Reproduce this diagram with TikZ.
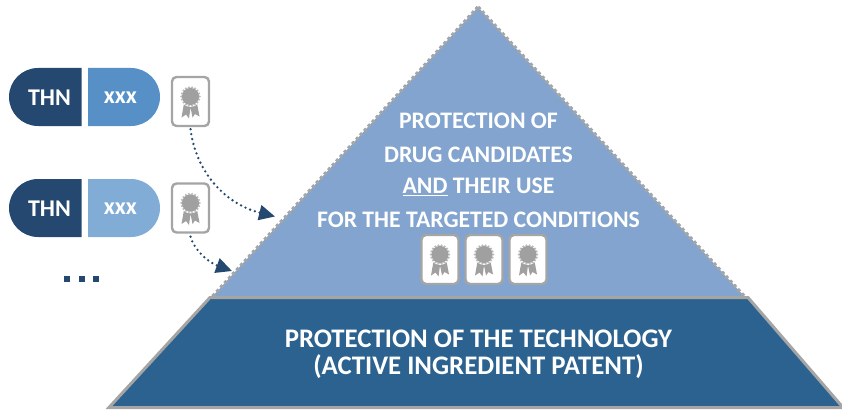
\documentclass[tikz,border=0pt]{standalone}
\usepackage{fontspec}
\setmainfont{Carlito}
\usetikzlibrary{arrows.meta}
\definecolor{navy}{HTML}{24486F}
\definecolor{midblue}{HTML}{5790C6}
\definecolor{lightblue}{HTML}{81ACD6}
\definecolor{pyr}{HTML}{82A4CE}
\definecolor{base}{HTML}{2C628F}
\definecolor{edge}{HTML}{A5A5A5}
\definecolor{seal}{HTML}{A0A0A0}
\tikzset{
  x=1pt,y=-1pt,
  pilltext/.style={text=white,font=\fontsize{24}{24}\selectfont\bfseries,inner sep=0pt,anchor=center},
  pilltextb/.style={text=white,font=\fontsize{24}{24}\selectfont\bfseries,inner sep=0pt,anchor=center},
  badgebox/.style={draw=edge,line width=2.4pt,fill=white,rounded corners=4.5pt,minimum width=37pt,minimum height=49pt,inner sep=0pt},
  headtext/.style={text=white,font=\fontsize{23.7}{23.7}\selectfont\bfseries,inner sep=0pt,anchor=center},
  basetext/.style={text=white,font=\fontsize{26.8}{26.8}\selectfont\bfseries,inner sep=0pt,anchor=center},
  linkarrow/.style={draw=navy,line width=2.6pt,line cap=round,dash pattern=on 0pt off 5pt,-{Triangle[length=16pt,width=15pt]}},
  sealpic/.pic={
    \fill[seal] (-6,4) -- (-9,21) -- (-4.5,18) -- (-1.5,22) -- (0,11) -- (2,21) -- (4.5,17.5) -- (9,20) -- (6,4) -- cycle;
    \fill[white] (0,0) circle (10.4);
    \foreach \a in {0,20,...,340}{\fill[seal!70!white] (\a:9.2) circle (1.2);}
    \fill[seal] (0,0) circle (8.6);
  }
}
\begin{document}
\begin{tikzpicture}
\useasboundingbox (0,0) rectangle (842,409);
% pyramid
\coordinate (apex) at (478,7);
\coordinate (pl) at (212,297);
\coordinate (pr) at (745,297);
\fill[pyr] (pl) -- (apex) -- (pr) -- cycle;
\draw[edge,line width=3.4pt,dash pattern=on 3.2pt off 2.7pt] (apex) -- (pl);
\draw[edge,line width=3.4pt,dash pattern=on 3.2pt off 2.7pt] (apex) -- (pr);
% base
\coordinate (bl) at (109,407.5);
\coordinate (tl) at (210,297.5);
\coordinate (tr) at (748,297.5);
\coordinate (br) at (843,407.5);
\fill[base] (bl) -- (tl) -- (tr) -- (br) -- cycle;
\draw[edge,line width=3pt,line join=miter] (bl) -- (tl) -- (tr) -- (br) -- cycle;
% text
\node[headtext] (t1) at (478.5,121) {PROTECTION OF};
\node[headtext] (t2) at (478.5,155) {DRUG CANDIDATES};
\node[headtext] (t3) at (478.5,187) {\underline{AND} THEIR USE};
\node[headtext] (t4) at (478.5,220) {FOR THE TARGETED CONDITIONS};
\node[basetext] (t5) at (478.5,339) {PROTECTION OF THE TECHNOLOGY};
\node[basetext] (t6) at (478.5,367) {(ACTIVE INGREDIENT PATENT)};
% pills
\fill[navy] (81.5,68) -- (38,68) .. controls (22,68) and (9,81) .. (9,97) .. controls (9,113) and (22,126) .. (38,126) -- (81.5,126) -- cycle;
\fill[midblue] (88,68) -- (131,68) .. controls (147,68) and (160,81) .. (160,97) .. controls (160,113) and (147,126) .. (131,126) -- (88,126) -- cycle;
\fill[navy] (81.5,179) -- (38,179) .. controls (22,179) and (9,192) .. (9,208) .. controls (9,224) and (22,237) .. (38,237) -- (81.5,237) -- cycle;
\fill[lightblue] (88,179) -- (131,179) .. controls (147,179) and (160,192) .. (160,208) .. controls (160,224) and (147,237) .. (131,237) -- (88,237) -- cycle;
\node[pilltext] (p1) at (49.5,97.5) {THN};
\node[pilltextb] (x1) at (120.5,97.5) {xxx};
\node[pilltext] (p2) at (49.5,208.5) {THN};
\node[pilltextb] (x2) at (120.5,208.5) {xxx};
% badges
\node[badgebox] (b1) at (190.5,101.5) {};
\node[badgebox] (b2) at (190.5,208) {};
\node[badgebox] (b3) at (440,259.5) {};
\node[badgebox] (b4) at (484,259.5) {};
\node[badgebox] (b5) at (528,259.5) {};
\foreach \n in {b1,b2,b3,b4,b5}{\pic at ([yshift=5pt]\n.center) {sealpic};}
% links
\coordinate (e1) at (275,216.5);
\coordinate (e2) at (232,271);
\draw[linkarrow] ([yshift=-2pt]b1.south) .. controls (196,172) and (225,204) .. (e1);
\draw[linkarrow] ([yshift=-3pt]b2.south) .. controls (195,252) and (210,263) .. (e2);
% ellipsis
\fill[navy] (64,276) rectangle (70,282);
\fill[navy] (78.5,276) rectangle (84.5,282);
\fill[navy] (93,276) rectangle (99,282);
\end{tikzpicture}
\end{document}
